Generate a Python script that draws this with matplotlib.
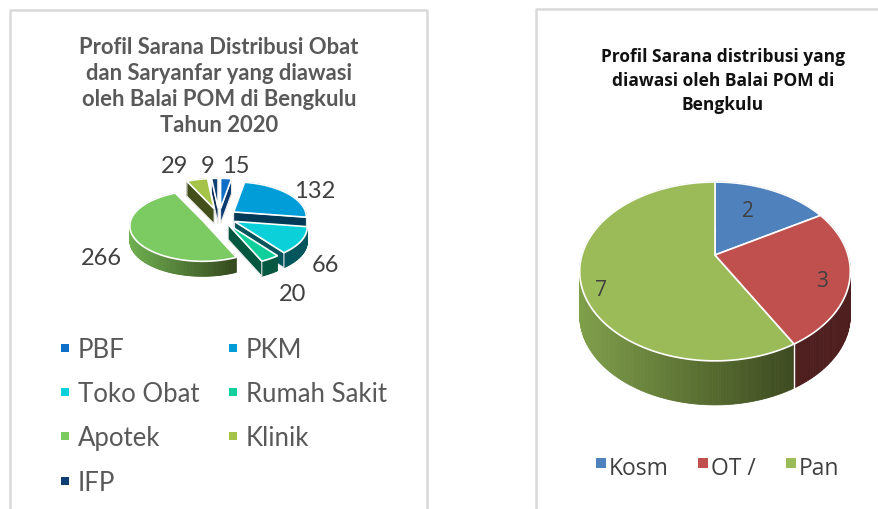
import numpy as np
import matplotlib
matplotlib.use('Agg')
import matplotlib.pyplot as plt
from matplotlib.colors import to_rgb

# left chart
left_names = ['PBF', 'PKM', 'Toko Obat', 'Rumah Sakit', 'Apotek', 'Klinik', 'IFP']
left_values = [15, 132, 66, 20, 266, 29, 9]
left_top = ['#0f6fc6', '#009dd9', '#0bd0d9', '#10cf9b', '#7cca62', '#a5c249', '#0f3f72']
left_side = ['#0a3a70', '#003a56', '#02565c', '#04573f', '#6fb050', '#434f1b', '#0a2a50']
left_side_end = ['#0a3a70', '#003a56', '#02565c', '#04573f', '#33471c', '#434f1b', '#0a2a50']

# right chart
right_names = ['Kosm', 'OT /', 'Pan']
right_values = [2, 3, 7]
right_top = ['#4f81bd', '#c0504d', '#9bbb59']
right_side = ['#2c4a70', '#4f1f1f', '#7f9f4a']
right_side_end = ['#2c4a70', '#4f1f1f', '#3d4a20']

fig = plt.figure(figsize=(8.79, 5.10), dpi=100)
ax = fig.add_axes([0, 0, 1, 1])
ax.set_xlim(0, 879)
ax.set_ylim(510, 0)
ax.axis('off')


def project(t, r, cx, cy, rx, ry, k):
    # t clockwise from top, simple perspective on the disc
    u = r * np.sin(t)
    v = r * np.cos(t)
    s = 1 / (1 + k * v)
    return cx + rx * u * s, cy - ry * v * s


def pie3d(values, tops, sides, sides_end, cx, cy, rx, ry, k, depth, explode, z=2):
    total = sum(values)
    edges = np.cumsum([0] + list(values)) / total * 2 * np.pi
    mids = (edges[:-1] + edges[1:]) / 2
    # back slices first
    order = np.argsort(-np.cos(mids))
    for n, i in enumerate(order):
        a, b = edges[i], edges[i + 1]
        m = mids[i]
        ox = cx + explode * rx * np.sin(m)
        oy = cy - explode * ry * np.cos(m)
        t = np.linspace(a, b, max(int((b - a) * 60), 6))
        x, y = project(t, 1, ox, oy, rx, ry, k)
        base = z + n * 0.1
        # rim, strip by strip for the shading
        c0 = np.array(to_rgb(sides[i]))
        c1 = np.array(to_rgb(sides_end[i]))
        for j in range(len(t) - 1):
            f = (x[j] - x.min()) / max(x.max() - x.min(), 1)
            col = c0 + (c1 - c0) * f
            ax.fill([x[j], x[j + 1], x[j + 1], x[j]],
                    [y[j], y[j + 1], y[j + 1] + depth, y[j] + depth],
                    color=col, lw=0.6, zorder=base)
        # cut faces, only the ones turned to the viewer
        if explode > 0:
            if np.sin(a) < 0:
                ax.fill([ox, x[0], x[0], ox], [oy, y[0], y[0] + depth, oy + depth],
                        color=sides_end[i], ec='#e8e8e8', lw=0.8, zorder=base + 0.01)
            if np.sin(b) > 0:
                ax.fill([ox, x[-1], x[-1], ox], [oy, y[-1], y[-1] + depth, oy + depth],
                        color=sides_end[i], ec='#e8e8e8', lw=0.8, zorder=base + 0.01)
        elif np.sin(b) > 0 and np.cos(b) < 0:
            # seam between two slices on the front wall
            ax.plot([x[-1], x[-1]], [y[-1], y[-1] + depth], color='white', lw=1, zorder=z + 1)
        ax.fill(np.r_[ox, x], np.r_[oy, y], color=tops[i], ec='white', lw=1.2,
                zorder=base + 0.02)


# panel frames
ax.plot([10, 10, 427, 427], [510, 11, 11, 510], color='#d9d9d9', lw=1.8, zorder=1)
ax.plot([536, 536, 879], [510, 10, 10], color='#d9d9d9', lw=1.8, zorder=1)

pie3d(left_values, left_top, left_side, left_side_end,
      219, 218, 72, 34.6, 0.15, 15, 0.25)
pie3d(right_values, right_top, right_side, right_side_end,
      715, 256, 133, 86.4, 0.184, 44, 0)

# titles
left_title = ['Profil Sarana Distribusi Obat', 'dan Saryanfar yang diawasi',
              'oleh Balai POM di Bengkulu', 'Tahun 2020']
for line, yy in zip(left_title, [48, 74, 100, 125]):
    ax.text(219, yy, line, ha='center', va='center', family='Lato', weight='bold',
            fontsize=15.8, color='#595959', zorder=20)
right_title = ['Profil Sarana distribusi yang', 'diawasi oleh Balai POM di', 'Bengkulu']
for line, yy in zip(right_title, [57, 81, 105]):
    ax.text(723, yy, line, ha='center', va='center', family='Open Sans', weight='bold',
            fontsize=12.5, color='#111111', zorder=20)

# data labels
left_lx = [236, 315, 326, 293, 101, 175, 208]
left_ly = [167, 192, 266, 295, 259, 167, 167]
for v, lx, ly in zip(left_values, left_lx, left_ly):
    ax.text(lx, ly, str(v), ha='center', va='center', family='Lato', fontsize=17,
            color='#404040', zorder=20)
right_lx = [748, 822, 601]
right_ly = [212, 282, 291]
for v, lx, ly in zip(right_values, right_lx, right_ly):
    ax.text(lx, ly, str(v), ha='center', va='center', family='Open Sans', fontsize=15,
            color='#404040', zorder=20)

# legends
leg_x = [65, 233, 65, 233, 65, 233, 65]
leg_y = [349, 349, 393, 393, 437, 437, 482]
for name, col, lx, ly in zip(left_names, left_top, leg_x, leg_y):
    ax.scatter([lx], [ly], marker='s', s=38, color=col, lw=0, zorder=20)
    ax.text(lx + 13, ly + 2, name, ha='left', va='center', family='Lato', fontsize=18.5,
            color='#595959', zorder=20)
leg2_x = [601, 703, 791]
for name, col, lx in zip(right_names, right_top, leg2_x):
    ax.scatter([lx], [464], marker='s', s=60, color=col, lw=0, zorder=20)
    ax.text(lx + 8, 469, name, ha='left', va='center', family='Open Sans', fontsize=16.5,
            color='#404040', zorder=20)

fig.savefig('out.png', dpi=100)
